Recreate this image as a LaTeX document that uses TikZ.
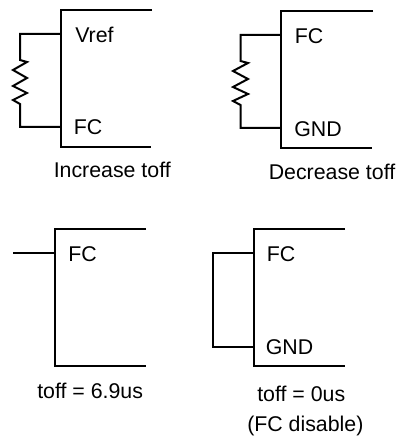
\documentclass[tikz,border=0pt]{standalone}
\usepackage{fontspec}
\setmainfont{Liberation Sans}
\tikzset{
	pinline/.style={line width=1.5pt,line cap=butt,line join=miter},
	pinlabel/.style={anchor=base west,inner sep=0pt,font=\fontsize{16}{18}\selectfont}
}
\begin{document}
\begin{tikzpicture}[x=0.75pt,y=-0.75pt,line join=round]
	\useasboundingbox (0,0) rectangle (397,438);
	%Increase toff
	\coordinate (topA) at (152,10);
	\coordinate (cornerA) at (61,10);
	\coordinate (lowA) at (61,147);
	\coordinate (botA) at (151,147);
	\coordinate (tapA) at (61,34);
	\coordinate (tbpA) at (61,127);
	\draw[pinline] (topA)--(cornerA)--(lowA)--(botA);
	\draw[pinline] (tapA)--(20,34)--(20,60)--(27,62)--(13,70)--(27,78)--(13,86)--(27,93)--(13,100)--(20,104)--(20,127)--(tbpA);
	\node[pinlabel] (vrefA) at (75,42.7) {Vref};
	\node[pinlabel] (fcA) at (73.5,135) {FC};
	\node[pinlabel] (capA) at (53.5,178) {Increase toff};
	%Decrease toff
	\coordinate (topB) at (373,11);
	\coordinate (cornerB) at (281,11);
	\coordinate (lowB) at (281,148);
	\coordinate (botB) at (372,148);
	\coordinate (tapB) at (281,35);
	\coordinate (tbpB) at (281,128);
	\draw[pinline] (topB)--(cornerB)--(lowB)--(botB);
	\draw[pinline] (tapB)--(240.5,35)--(240.5,61)--(248,63)--(233,71)--(248,79)--(233,87)--(248,94)--(233,101)--(240.5,105)--(240.5,128)--(tbpB);
	\node[pinlabel] (fcB) at (294.5,43.7) {FC};
	\node[pinlabel] (gndB) at (294,136.7) {GND};
	\node[pinlabel] (capB) at (268.5,180) {Decrease toff};
	%toff = 6.9us
	\coordinate (topC) at (146,229);
	\coordinate (cornerC) at (54.5,229);
	\coordinate (lowC) at (54.5,366);
	\coordinate (botC) at (145.5,366);
	\coordinate (tapC) at (54.5,253);
	\coordinate (freeC) at (13,253);
	\draw[pinline] (topC)--(cornerC)--(lowC)--(botC);
	\draw[pinline] (tapC)--(freeC);
	\node[pinlabel] (fcC) at (68,261.7) {FC};
	\node[pinlabel] (capC) at (37,398) {toff = 6.9us};
	%toff = 0us
	\coordinate (topD) at (345,229);
	\coordinate (cornerD) at (253.5,229);
	\coordinate (lowD) at (253.5,366);
	\coordinate (botD) at (344.5,366);
	\coordinate (tapD) at (253.5,253);
	\coordinate (tbpD) at (253.5,346.5);
	\draw[pinline] (topD)--(cornerD)--(lowD)--(botD);
	\draw[pinline] (tapD)--(213,253)--(213,346.5)--(tbpD);
	\node[pinlabel] (fcD) at (266.5,261.7) {FC};
	\node[pinlabel] (gndD) at (265.5,354.7) {GND};
	\node[pinlabel] (capD) at (257,401) {toff = 0us};
	\node[pinlabel] (noteD) at (247,431.7) {(FC disable)};
\end{tikzpicture}
\end{document}
